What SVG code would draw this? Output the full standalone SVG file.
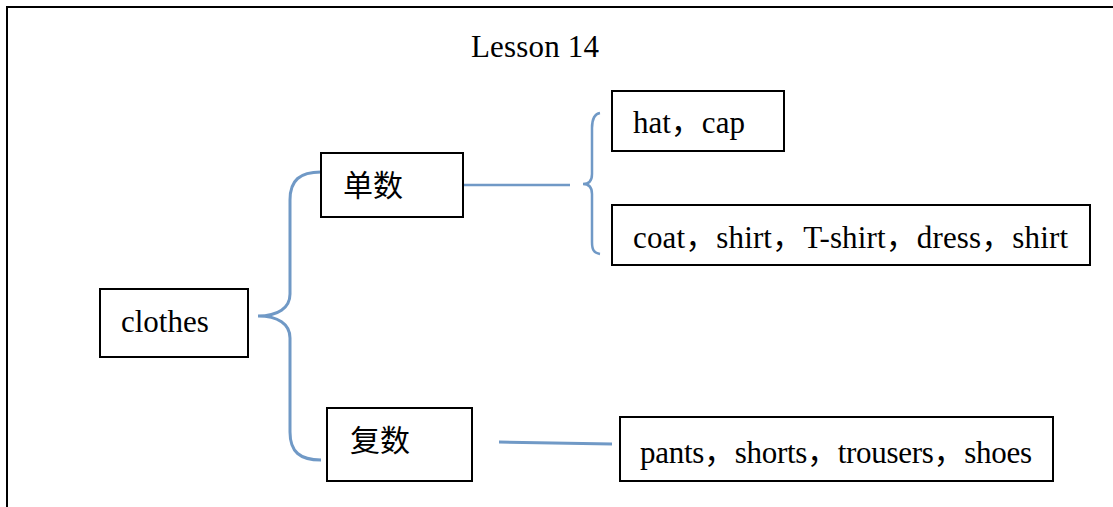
<svg xmlns="http://www.w3.org/2000/svg" width="1113" height="507" viewBox="0 0 1113 507">
<style>
.box{fill:#fff;stroke:#000;stroke-width:2}
.t{font-family:"Liberation Serif","Noto Sans CJK SC",serif;font-size:31px;fill:#000}
.cjk{font-family:"Liberation Serif","Noto Sans CJK SC",serif;font-size:30px;fill:#000}
.c{fill:none;stroke:#7099c6;stroke-linecap:butt}
</style>
<rect width="1113" height="507" fill="#fff"/>
<path d="M7,507 V7 H1113" fill="none" stroke="#000" stroke-width="2"/>
<text class="t" x="471" y="57" textLength="128">Lesson 14</text>
<g id="connectors">
<path class="c" stroke-width="3" d="M321,172 C300,172 290,180 290,200 L290,294 C290,308 278,316 258,316 C278,316 290,324 290,338 L290,432 C290,452 300,460 321,460"/>
<path class="c" stroke-width="2.5" d="M463,185 H570"/>
<path class="c" stroke-width="2.5" d="M600,113 C594,114 592,119 592,128 L592,174 C592,180 589,184 583,184 C589,184 592,188 592,194 L592,242 C592,250 594,253 600,254"/>
<path class="c" stroke-width="3" d="M499,442 L612,444"/>
</g>
<g id="clothes"><rect class="box" x="100" y="289" width="148" height="68"/><text class="t" x="121" y="332">clothes</text></g>
<g id="singular"><rect class="box" x="321" y="153" width="142" height="64"/><text class="cjk" x="343" y="196">单数</text></g>
<g id="plural"><rect class="box" x="327" y="408" width="145" height="73"/><text class="cjk" x="350" y="451">复数</text></g>
<g id="hat"><rect class="box" x="612" y="91" width="172" height="60"/><text class="t" x="633" y="133">hat，cap</text></g>
<g id="coat"><rect class="box" x="612" y="205" width="478" height="60"/><text class="t" x="633" y="248" textLength="435">coat，shirt，T-shirt，dress，shirt</text></g>
<g id="pants"><rect class="box" x="620" y="417" width="433" height="64"/><text class="t" x="640" y="463" textLength="392">pants，shorts，trousers，shoes</text></g>
</svg>
